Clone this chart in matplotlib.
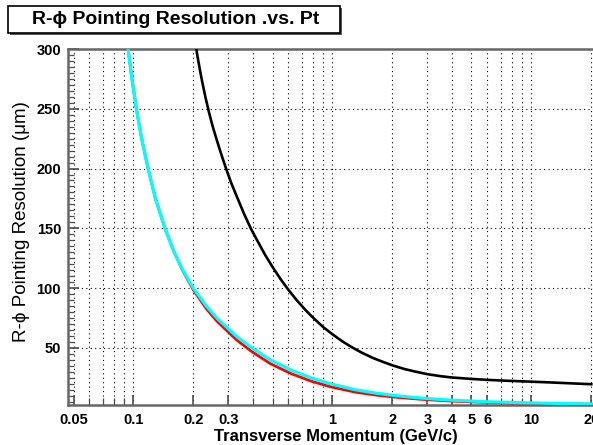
import matplotlib
matplotlib.use("Agg")
import matplotlib.pyplot as plt
from matplotlib.patches import Rectangle
from matplotlib.ticker import FixedLocator, FixedFormatter, MultipleLocator, NullFormatter

plt.rcParams['font.family'] = ['Liberation Sans', 'DejaVu Sans']

# values (pt in GeV/c, resolution in um)
p_cyan = [0.094, 0.0983, 0.1035, 0.110, 0.1185, 0.129, 0.144, 0.1603, 0.1771, 0.200,
          0.2324, 0.2625, 0.328, 0.394, 0.4875, 0.621, 0.78, 0.975, 1.3, 1.672,
          2.085, 2.78, 3.82, 5.76, 9.45, 14.8, 20.0]
res_cyan = [300, 275, 250, 225, 200, 175, 150, 130, 115, 100,
            85, 75, 60, 50, 40, 31.4, 25, 20, 15, 12,
            10, 8, 6.4, 5, 4, 3.4, 3.0]
p_red = p_cyan
res_red = [300, 275, 250, 225, 200, 175, 150, 130, 114.5, 98.5,
           82.8, 72.4, 57, 46.8, 36.8, 28.4, 22.2, 17.5, 13, 10.4,
           8.7, 7, 5.6, 4.4, 3.6, 3.1, 2.8]
p_black = [0.207, 0.209, 0.215, 0.222, 0.23, 0.24, 0.25, 0.26, 0.275, 0.29, 0.31, 0.33,
           0.36, 0.39, 0.42, 0.46, 0.5, 0.55, 0.6, 0.66, 0.73, 0.8, 0.9, 1.0,
           1.12, 1.25, 1.4, 1.6, 1.8, 2.0, 2.3, 2.6, 3.0, 3.5, 4.0, 5.0,
           6.2, 7.5, 9.0, 10.0, 12.0, 14.5, 17.0, 20.0]
res_black = [300, 295.7, 284, 272, 259.8, 246.7, 235.5, 226, 213, 201.5, 188, 177,
             162, 149.5, 139.5, 127.5, 117.7, 107.3, 98.7, 90.1, 81.9, 75.2, 67.3, 61.4,
             55.5, 50.6, 46.1, 41.5, 38.2, 35.4, 32.3, 30.2, 28.0, 26.3, 25.2, 24.0,
             23.1, 22.5, 22.0, 21.7, 21.2, 20.6, 20.1, 19.6]

xmajor = [0.05, 0.1, 0.2, 0.3, 1, 2, 3, 4, 5, 6, 10, 20]
xlabels = ["0.05", "0.1", "0.2", "0.3", "1", "2", "3", "4", "5", "6", "10", "20"]
xminor = [0.06, 0.07, 0.08, 0.09, 0.4, 0.5, 0.6, 0.7, 0.8, 0.9, 7, 8, 9]

W, H = 593, 445
fig = plt.figure(figsize=(W / 100, H / 100), dpi=100)
ax = fig.add_axes([68 / W, 40 / H, (W - 68) / W, 356 / H])

ax.plot(p_red, res_red, color='red', lw=2.0, zorder=3)
ax.plot(p_cyan, res_cyan, color='cyan', lw=2.3, zorder=4)
ax.plot(p_black, res_black, color='black', lw=1.9, zorder=5)

ax.set_xscale('log')
ax.set_xlim(0.0469, 20.4)
ax.set_ylim(2.2, 300)

ax.xaxis.set_major_locator(FixedLocator(xmajor))
ax.xaxis.set_major_formatter(FixedFormatter(xlabels))
ax.xaxis.set_minor_locator(FixedLocator(xminor))
ax.xaxis.set_minor_formatter(NullFormatter())
ax.yaxis.set_major_locator(MultipleLocator(50))
ax.yaxis.set_minor_locator(MultipleLocator(5))

ax.grid(True, which='both', axis='x', ls=(0, (1, 3)), color='black', lw=0.8)
ax.grid(True, which='major', axis='y', ls=(0, (1, 3)), color='black', lw=0.8)

ax.tick_params(which='both', direction='in', top=False, right=False, color='0.3')
ax.tick_params(axis='y', which='major', length=8, width=1.2, pad=5)
ax.tick_params(axis='y', which='minor', length=4, width=0.9)
ax.tick_params(axis='x', which='major', length=7, width=1.2, pad=6)
ax.tick_params(axis='x', which='minor', length=5, width=0.9)
for lab in ax.get_xticklabels() + ax.get_yticklabels():
    lab.set_fontweight('bold')
    lab.set_fontsize(10.5)

for side in ['left', 'bottom', 'top']:
    ax.spines[side].set_color('0.4')
    ax.spines[side].set_linewidth(1.8)
ax.spines['right'].set_visible(False)

# axis titles
fig.text(336 / W, 1 - 437 / H, "Transverse Momentum (GeV/c)", fontsize=12,
         fontweight='bold', ha='center', va='center')
fig.text(22 / W, 1 - 222 / H, "R-\u03d5 Pointing Resolution (\u03bcm)", fontsize=13.5,
         ha='center', va='center', rotation=90)

# title box with shadow
fig.patches.append(Rectangle((10 / W, 1 - 35 / H), 332 / W, 27 / H, transform=fig.transFigure,
                             facecolor='0.35', edgecolor='none', zorder=1))
fig.patches.append(Rectangle((8 / W, 1 - 33 / H), 332 / W, 27 / H, transform=fig.transFigure,
                             facecolor='white', edgecolor='black', lw=1.2, zorder=2))
fig.text(32 / W, 1 - 19.5 / H, "R-\u03d5 Pointing Resolution .vs. Pt", fontsize=14,
         fontweight='bold', ha='left', va='center', zorder=3)

fig.savefig("out.png", dpi=100)
